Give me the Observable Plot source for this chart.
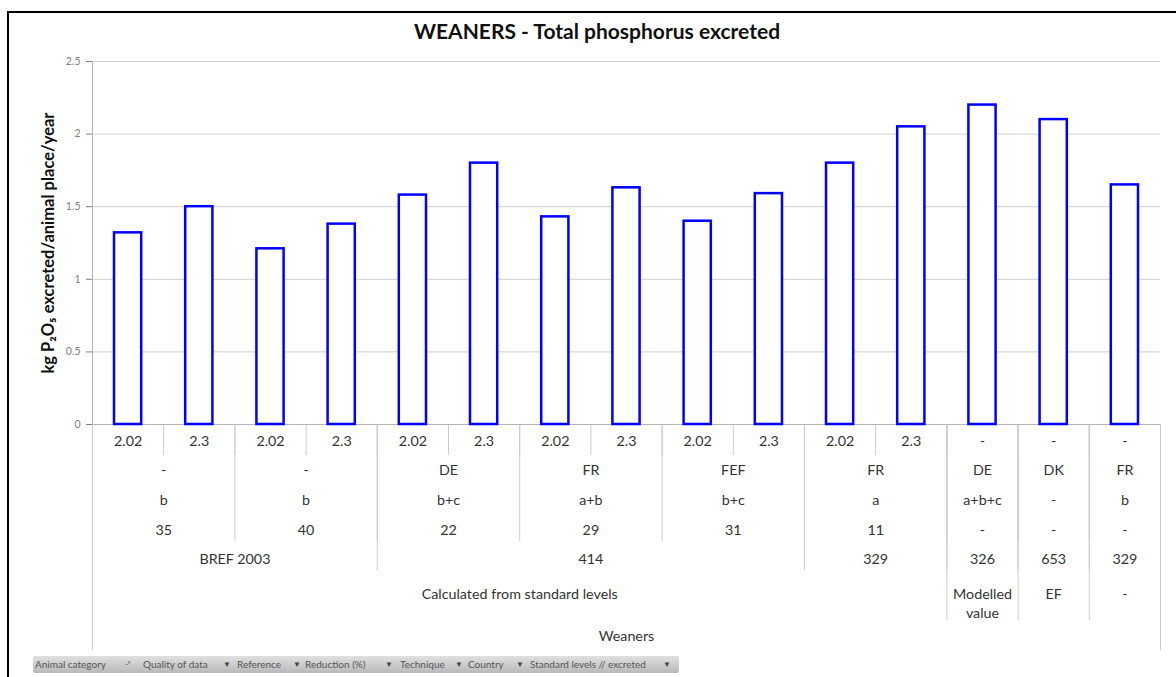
<!DOCTYPE html>
<html>
<head>
<meta charset="utf-8">
<script src="https://cdn.jsdelivr.net/npm/d3@7"></script>
<script src="https://cdn.jsdelivr.net/npm/@observablehq/plot@0.6"></script>
<style>
  body { margin: 0; background: #fff; }
  #wrap { position: relative; width: 1176px; height: 677px; overflow: hidden; font-family: Lato, "Open Sans", sans-serif; }
  #frame { position: absolute; left: 7px; top: 11px; right: -10px; bottom: -10px; border-left: 2px solid #000; border-top: 2px solid #000; }
  #chart { position: absolute; left: 0; top: 0; }
  #title { position: absolute; left: 0; width: 1194px; top: 18px; text-align: center; font-weight: bold; font-size: 21px; color: #111; white-space: nowrap; }
  #filters { position: absolute; left: 33px; top: 656px; width: 646px; height: 17px; background: linear-gradient(#e0e0e0, #b9b9b9); border-radius: 2px; }
  #filters span { position: absolute; top: 0; line-height: 17px; font-size: 10px; color: #555; white-space: nowrap; }
  #filters span.ic { font-size: 8px; color: #444; }
</style>
</head>
<body>
<div id="wrap">
  <div id="chart"></div>
  <div id="frame"></div>
  <div id="title">WEANERS - Total phosphorus excreted</div>
  <div id="filters">
    <span style="left:2px">Animal category</span>
    <span class="ic" style="left:92px">-ᵞ</span>
    <span style="left:110px">Quality of data</span>
    <span class="ic" style="left:190px">▼</span>
    <span style="left:204px">Reference</span>
    <span class="ic" style="left:260px">▼</span>
    <span style="left:272px">Reduction (%)</span>
    <span class="ic" style="left:352px">▼</span>
    <span style="left:367px">Technique</span>
    <span class="ic" style="left:422px">▼</span>
    <span style="left:435px">Country</span>
    <span class="ic" style="left:483px">▼</span>
    <span style="left:497px">Standard levels // excreted</span>
    <span class="ic" style="left:630px">▼</span>
  </div>
</div>
<script>
// ---- data ----
const values = [1.32, 1.50, 1.21, 1.38, 1.58, 1.80, 1.43, 1.63, 1.40, 1.59, 1.80, 2.05, 2.20, 2.10, 1.65];
const quality = ["2.02", "2.3", "2.02", "2.3", "2.02", "2.3", "2.02", "2.3", "2.02", "2.3", "2.02", "2.3", "-", "-", "-"];
const pairSpans = [2, 2, 2, 2, 2, 2, 1, 1, 1];
const countryLabels = ["-", "-", "DE", "FR", "FEF", "FR", "DE", "DK", "FR"];
const techniqueLabels = ["b", "b", "b+c", "a+b", "b+c", "a", "a+b+c", "-", "b"];
const reductionLabels = ["35", "40", "22", "29", "31", "11", "-", "-", "-"];
const referenceLabels = ["BREF 2003", "414", "329", "326", "653", "329"];
const referenceSpans = [4, 6, 2, 1, 1, 1];
const standardLabels = ["Calculated from standard levels", "Modelled\nvalue", "EF", "-"];
const standardSpans = [12, 1, 1, 1];
const animalLabels = ["Weaners"];
const animalSpans = [15];
const yTicks = [0, 0.5, 1, 1.5, 2, 2.5];
const yLabel = "kg P₂O₅ excreted/animal place/year";

// ---- helpers ----
function groups(labels, spans) {
  let s = 0;
  return labels.map((label, k) => { const from = s; s += spans[k]; return {label, from, to: s, mid: (from + s) / 2}; });
}
function bounds(spans) {
  const b = [0]; let s = 0;
  for (const n of spans) { s += n; b.push(s); }
  return b;
}

const W = 1176, H = 660, mT = 61, mB = 236, mL = 92, mR = 16;
const plotH = H - mT - mB;
const sepColor = "#cccccc";
const txt = {frameAnchor: "bottom", fontSize: 14.3, fill: "#333"};

const sep = (spans, depth) => Plot.ruleX(bounds(spans), {x: d => d, insetTop: plotH, insetBottom: -depth, stroke: sepColor});

const chart = Plot.plot({
  width: W, height: H,
  marginTop: mT, marginBottom: mB, marginLeft: mL, marginRight: mR,
  style: {fontFamily: "Lato, 'Open Sans', sans-serif", background: "transparent", overflow: "visible"},
  x: {domain: [0, values.length], axis: null},
  y: {domain: [0, 2.5], axis: null},
  marks: [
    Plot.ruleY(yTicks.filter(d => d > 0), {y: d => d, stroke: "#cfcfcf"}),
    Plot.ruleX([0], {x: d => d, stroke: "#b5b5b5"}),
    sep(values.map(() => 1), 31),
    sep(pairSpans, 117),
    sep(referenceSpans, 146),
    sep(standardSpans, 196),
    sep(animalSpans, 226),
    Plot.ruleY([0], {y: d => d, stroke: "#b5b5b5"}),
    Plot.rectY(values, {x1: (d, i) => i, x2: (d, i) => i + 1, y1: 0, y2: d => d, insetLeft: 22, insetRight: 22, fill: "white", stroke: "#0000ff", strokeWidth: 2.5}),
    Plot.axisY({ticks: yTicks, tickSize: 6, tickPadding: 6, tickFormat: d => String(d), fontSize: 10.5, color: "#808080", label: null}),
    Plot.text([yLabel], {text: d => d, frameAnchor: "left", textAnchor: "middle", rotate: -90, dx: -44, fontWeight: "bold", fontSize: 16.5, fill: "#111"}),
    Plot.text(quality, {...txt, x: (d, i) => i + 0.5, text: d => d, dy: 21}),
    Plot.text(groups(countryLabels, pairSpans), {...txt, x: "mid", text: "label", dy: 50}),
    Plot.text(groups(techniqueLabels, pairSpans), {...txt, x: "mid", text: "label", dy: 80}),
    Plot.text(groups(reductionLabels, pairSpans), {...txt, x: "mid", text: "label", dy: 110}),
    Plot.text(groups(referenceLabels, referenceSpans), {...txt, x: "mid", text: "label", dy: 139}),
    Plot.text(groups(standardLabels, standardSpans), {...txt, x: "mid", text: "label", dy: 160, lineAnchor: "top", lineHeight: 1.38}),
    Plot.text(groups(animalLabels, animalSpans), {...txt, x: "mid", text: "label", dy: 216})
  ]
});
document.getElementById("chart").appendChild(chart);
</script>
</body>
</html>
